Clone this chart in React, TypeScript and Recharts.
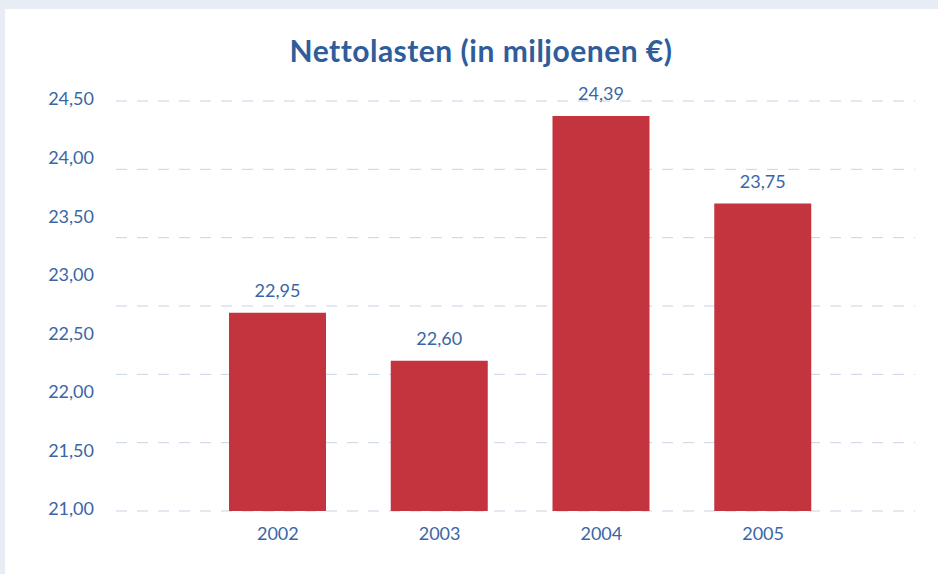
import { BarChart, Bar, XAxis, YAxis, CartesianGrid, LabelList } from "recharts";

const years = ["2002", "2003", "2004", "2005"];
const nettolasten = [22.95, 22.6, 24.39, 23.75];
// labels shown on the left axis (as printed in the original)
const yLabels = ["21,00", "21,50", "22,00", "22,50", "23,00", "23,50", "24,00", "24,50"];
// scale actually used by the bars and gridlines
const valueDomain: [number, number] = [21.5, 24.5];
const valueTicks = [21.5, 22, 22.5, 23, 23.5, 24, 24.5];

const data = years.map((year, i) => ({ year, value: nettolasten[i] }));
const labelTicks = yLabels.map((_, i) => i);

const blue = "#3a66a6";
const font = "Lato, 'Open Sans', sans-serif";

const fmt = (v: number) => v.toFixed(2).replace(".", ",");

export default function App() {
  return (
    <div style={{ position: "relative", width: 938, height: 574, background: "#e8edf5", fontFamily: font }}>
      <style>{"body{margin:0}"}</style>
      <div style={{ position: "absolute", left: 5, top: 9, right: 0, bottom: 0, background: "#ffffff" }} />
      <div
        style={{
          position: "absolute",
          left: 0,
          width: 962,
          top: 32,
          textAlign: "center",
          fontSize: 30,
          letterSpacing: 0.5,
          fontWeight: 700,
          color: "#2f5d9c",
          lineHeight: "36px",
        }}
      >
        Nettolasten (in miljoenen €)
      </div>
      <div style={{ position: "absolute", left: 0, top: 0 }}>
        <BarChart width={938} height={574} data={data} margin={{ top: 101, right: 23, bottom: 0, left: 0 }}>
          <CartesianGrid yAxisId="val" vertical={false} stroke="#c6d3e7" strokeDasharray="11 10" />
          <XAxis
            dataKey="year"
            height={63}
            axisLine={false}
            tickLine={false}
            tickMargin={10}
            padding={{ left: 81, right: 71 }}
            tick={{ fill: blue, fontSize: 18, fontFamily: font }}
          />
          <YAxis yAxisId="val" hide type="number" domain={valueDomain} ticks={valueTicks} allowDataOverflow />
          <YAxis
            yAxisId="lab"
            type="number"
            domain={[0, yLabels.length - 1]}
            ticks={labelTicks}
            allowDataOverflow
            interval={0}
            width={116}
            axisLine={false}
            tickLine={false}
            tickMargin={16}
            tickFormatter={(i: number) => yLabels[i]}
            tick={{ fill: blue, fontSize: 18, fontFamily: font, dy: -2 }}
          />
          <Bar yAxisId="val" dataKey="value" fill="#c3343f" barSize={97} isAnimationActive={false}>
            <LabelList
              dataKey="value"
              position="top"
              offset={16}
              formatter={(v: number) => fmt(v)}
              style={{ fill: blue, fontSize: 18, fontFamily: font }}
            />
          </Bar>
        </BarChart>
      </div>
    </div>
  );
}
